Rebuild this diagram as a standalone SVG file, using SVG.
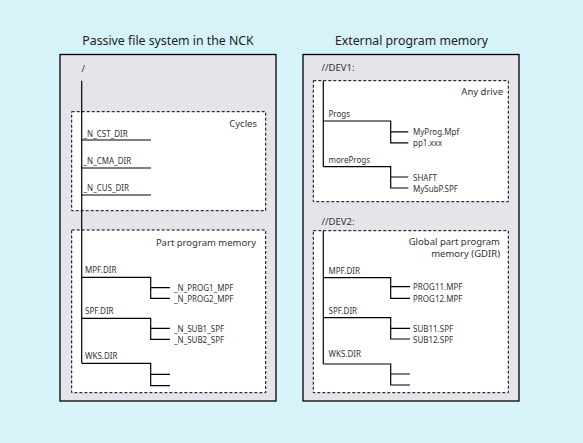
<svg xmlns="http://www.w3.org/2000/svg" width="583" height="443" viewBox="0 0 583 443">
<style>
.bg{fill:#d5f3f9}
.outer{fill:#e5e4ea;stroke:#000;stroke-width:1.3}
.dash{fill:#fff;stroke:#000;stroke-width:1;stroke-dasharray:3 2}
.ln{fill:none;stroke:#000;stroke-width:1.2}
text{font-family:"Noto Sans","Open Sans",sans-serif;fill:#333}
.t{font-size:12.3px;fill:#222;text-anchor:middle}
.m{font-size:9.5px}
.s{font-size:8px}
.r{text-anchor:end}
</style>
<rect class="bg" x="0" y="0" width="583" height="443"/>
<g id="titles">
<text class="t" x="168" y="44.5">Passive file system in the NCK</text>
<text class="t" x="411.5" y="44.5">External program memory</text>
</g>
<g id="nck">
<rect class="outer" x="60" y="54.5" width="216" height="346.5"/>
<text class="m" x="81.5" y="72">/</text>
</g>
<g id="cycles">
<rect class="dash" x="71.7" y="111.7" width="194" height="99"/>
<text class="m r" x="257" y="127">Cycles</text>
<text class="s" x="83.5" y="136.5">_N_CST_DIR</text>
<text class="s" x="83.5" y="164">_N_CMA_DIR</text>
<text class="s" x="83.5" y="191">_N_CUS_DIR</text>
</g>
<g id="partprog">
<rect class="dash" x="71.7" y="230" width="194" height="162.7"/>
<text class="m r" x="256" y="245.5">Part program memory</text>
<text class="s" x="85" y="273">MPF.DIR</text>
<text class="s" x="174" y="291">_N_PROG1_MPF</text>
<text class="s" x="174" y="301.8">_N_PROG2_MPF</text>
<text class="s" x="85" y="314">SPF.DIR</text>
<text class="s" x="174" y="331.8">_N_SUB1_SPF</text>
<text class="s" x="174" y="342.8">_N_SUB2_SPF</text>
<text class="s" x="85" y="359">WKS.DIR</text>
</g>
<g id="ext">
<rect class="outer" x="303" y="54.5" width="216" height="346.5"/>
<text class="m" x="321.5" y="71">//DEV1:</text>
<text class="m" x="321.5" y="225">//DEV2:</text>
</g>
<g id="dev1">
<rect class="dash" x="313.3" y="80.7" width="195" height="121"/>
<text class="m r" x="503" y="95">Any drive</text>
<text class="s" x="328.5" y="117">Progs</text>
<text class="s" x="413" y="135">MyProg.Mpf</text>
<text class="s" x="413" y="146">pp1.xxx</text>
<text class="s" x="328.5" y="162.5">moreProgs</text>
<text class="s" x="413" y="180.5">SHAFT</text>
<text class="s" x="413" y="191.5">MySubP.SPF</text>
</g>
<g id="dev2">
<rect class="dash" x="313.3" y="230.7" width="195" height="162"/>
<text class="m r" x="500" y="245">Global part program</text>
<text class="m r" x="500" y="257">memory (GDIR)</text>
<text class="s" x="328.5" y="273.5">MPF.DIR</text>
<text class="s" x="413" y="290.2">PROG11.MPF</text>
<text class="s" x="413" y="301.8">PROG12.MPF</text>
<text class="s" x="328.5" y="313.5">SPF.DIR</text>
<text class="s" x="413" y="331.8">SUB11.SPF</text>
<text class="s" x="413" y="342.5">SUB12.SPF</text>
<text class="s" x="328.5" y="357">WKS.DIR</text>
</g>
<g id="connectors" class="ln">
<path d="M81.7 80.7V363.3"/>
<path d="M81.7 140H151M81.7 168H151M81.7 195H151"/>
<path d="M81.7 277.3H150.7V298.3H170M150.7 287.7H170"/>
<path d="M81.7 318.3H150.7V339.3H170M150.7 328.3H170"/>
<path d="M81.7 363.3H150.7V385.7H170M150.7 374.3H170"/>
<path d="M323.3 80.7V166.7"/>
<path d="M323.3 121H390.7V142.8H408.3M390.7 131.8H408.3"/>
<path d="M323.3 166.7H390.7V188H408.3M390.7 177H408.3"/>
<path d="M323.3 230.7V364"/>
<path d="M323.3 277.7H390.7V298.3H410M390.7 286.7H410"/>
<path d="M323.3 317.7H390.7V339H410M390.7 328.3H410"/>
<path d="M323.3 364H390.7V385H410M390.7 374H410"/>
</g>
</svg>
